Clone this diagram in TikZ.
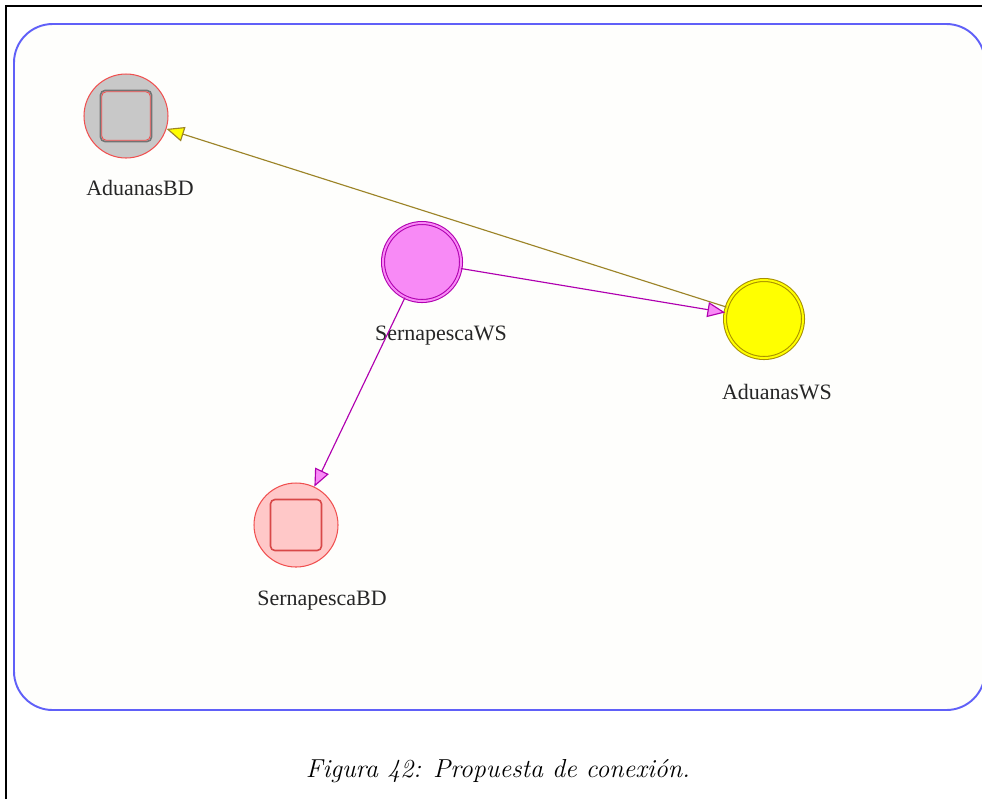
\documentclass[tikz,border=0pt]{standalone}
\usepackage{fontspec}
\usepackage{tikz}
\usetikzlibrary{arrows.meta, positioning, shapes.geometric}
\newfontfamily\lblfont{Liberation Serif}
\definecolor{frameblue}{HTML}{6060F8}
\definecolor{canvas}{HTML}{FEFEFC}
\definecolor{dbred}{HTML}{F05050}
\definecolor{dbgray}{HTML}{C8C8C8}
\definecolor{dbpink}{HTML}{FFC8C8}
\definecolor{wsviolet}{HTML}{F88AF6}
\definecolor{wspurple}{HTML}{B000B0}
\definecolor{wsyellow}{HTML}{FFFF00}
\definecolor{wsolive}{HTML}{A89000}
\definecolor{edgeolive}{HTML}{9C8428}

\begin{document}
\begin{tikzpicture}[
    x=0.02cm, y=-0.02cm,
    dbnode/.style={circle, draw=dbred, line width=0.6pt, minimum size=1.68cm, inner sep=0pt},
    wsnode/.style={circle, draw=#1, double=white, double distance=1.1pt, line width=0.6pt, minimum size=1.56cm, inner sep=0pt},
    dbbox/.style={rectangle, rounded corners=2.5pt, line width=0.9pt, minimum size=1.02cm, inner sep=0pt},
    lbl/.style={font=\lblfont\fontsize{12.5}{14}\selectfont, text=black!85, inner sep=0pt},
    arrow/.style={-{Triangle[length=10pt, width=8.5pt, fill=#1]}, line width=0.65pt}
]
\useasboundingbox (0,0) rectangle (982,799);
\draw[line width=1.4pt] (6,799) -- (6,6) -- (982,6);
\draw[frameblue, line width=1.1pt, fill=canvas, rounded corners=22] (14,24) rectangle (985,710);

\node[dbnode, fill=dbgray] (aduanasBD) at (126,116) {};
\node[dbbox, draw=black!55, fill=dbgray] (aduanasBDbox) at (aduanasBD) {};
\node[dbbox, draw=dbred, fill=dbgray, minimum size=0.97cm, line width=0.5pt] (aduanasBDin) at (aduanasBD) {};
\node[lbl] (aduanasBDlbl) at (140,188) {AduanasBD};

\node[wsnode=wspurple, fill=wsviolet, double=wsviolet] (sernapescaWS) at (422,262) {};
\node[lbl] (sernapescaWSlbl) at (441,336) {SernapescaWS};

\node[wsnode=wsolive, fill=wsyellow, double=wsyellow] (aduanasWS) at (764,319) {};
\node[lbl] (aduanasWSlbl) at (777,392) {AduanasWS};

\node[dbnode, fill=dbpink] (sernapescaBD) at (296,525) {};
\node[dbbox, draw=dbred!90!black, fill=dbpink] (sernapescaBDbox) at (sernapescaBD) {};
\node[lbl] (sernapescaBDlbl) at (322,601) {SernapescaBD};

\draw[arrow=wsyellow, draw=edgeolive] (aduanasWS) -- (aduanasBD);
\draw[arrow=wsviolet, draw=wspurple] (sernapescaWS) -- (aduanasWS);
\draw[arrow=wsviolet, draw=wspurple] (sernapescaWS) -- (sernapescaBD);

\node[font=\itshape\fontsize{14.8}{17}\selectfont] (caption) at (498,771) {Figura 42: Propuesta de conexión.};
\end{tikzpicture}
\end{document}
